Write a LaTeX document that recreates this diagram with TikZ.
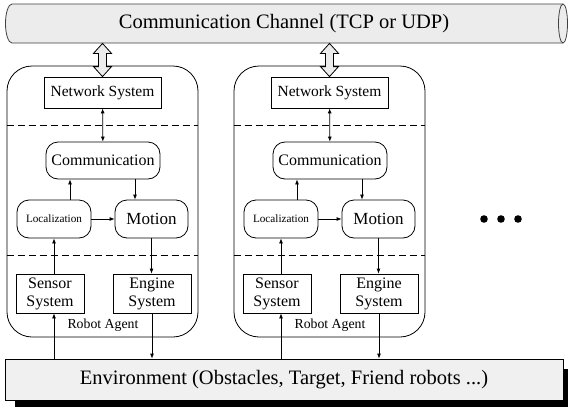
\documentclass[tikz,border=0pt]{standalone}
\usepackage{fontspec}
\setmainfont{Liberation Serif}
\usetikzlibrary{arrows.meta,calc,positioning}
\definecolor{chgray}{RGB}{236,236,236}
\definecolor{envgray}{RGB}{240,240,240}
\newcommand{\fsz}[2]{\fontsize{#1}{#2}\selectfont}
% one robot agent: #1 name prefix, #2 x offset
\newcommand{\robotagent}[2]{%
  \begin{scope}[xshift=#2]
    \node[agentbox] (#1box) at (102.5,201.5) {};
    \node[sysbox,minimum width=117,minimum height=31,font=\fsz{15.5}{17}] (#1net) at (102.5,92.5) {Network System};
    \node[procbox,minimum width=114,minimum height=37,font=\fsz{16}{18}] (#1com) at (103,160.5) {Communication};
    \node[procbox,minimum width=74,minimum height=38,font=\fsz{11.2}{13}] (#1loc) at (54,219) {Localization};
    \node[procbox,minimum width=73,minimum height=38,font=\fsz{17}{19}] (#1mot) at (151.5,219) {Motion};
    \node[sysbox,minimum width=68,minimum height=39,font=\fsz{16}{18}] (#1sen) at (50,293.5) {Sensor\\System};
    \node[sysbox,minimum width=78,minimum height=39,font=\fsz{16}{18}] (#1eng) at (152,293.5) {Engine\\System};
    \node[font=\fsz{13.8}{15}] (#1lbl) at (103,325) {Robot Agent};
    \draw[layer] (#1box.west |- 0,125) -- (#1box.east |- 0,125);
    \draw[layer] (#1box.west |- 0,255) -- (#1box.east |- 0,255);
    % hollow link to the channel
    \draw[linkarrow] (chan.south -| #1net) -- ++(9,10) -- ++(-5,0) |- ($(#1net.north)+(9,-10)$)
      -- (#1net.north) -- ++(-9,-10) -- ++(5,0) |- ($(chan.south -| #1net)+(-9,10)$) -- cycle;
    \draw[<->] (#1net) -- (#1com);
    \draw[->] ([xshift=16pt]#1loc.north) -- ([xshift=16pt]#1loc.north |- #1com.south);
    \draw[->] ([xshift=-16.5pt]#1mot.north |- #1com.south) -- ([xshift=-16.5pt]#1mot.north);
    \draw[->] (#1loc) -- (#1mot);
    \draw[->] (#1mot.south) -- (#1mot.south |- #1eng.north);
    \draw[->] (#1sen.north -| #1loc) -- (#1loc.south);
    \draw[->] (env.north -| #1loc) -- (#1sen.south -| #1loc);
    \draw[->] (#1eng.south) -- (#1eng.south |- env.north);
  \end{scope}
}

\begin{document}
\begin{tikzpicture}[x=1pt,y=-1pt,line width=.8pt,
    >={Latex[length=5pt,width=4pt]},
    every node/.style={inner sep=0pt,align=center},
    sysbox/.style={draw,fill=white},
    procbox/.style={draw,fill=white,rounded corners=12pt},
    agentbox/.style={draw,rounded corners=25pt,minimum width=191,minimum height=271},
    layer/.style={dash pattern=on 7pt off 4pt},
    linkarrow/.style={draw,fill=chgray,line join=miter},
    ]
  \useasboundingbox (0,0) rectangle (568,407);
  \clip (0,0) rectangle (568,407);
  % channel (drawn as a pipe)
  \draw[fill=chgray,draw=black!75] (12,4) -- (563,4) arc (-90:90:4.5 and 19.5) -- (12,43) arc (90:270:6.5 and 19.5) -- cycle;
  \draw[draw=black!75] (563,4) arc (270:90:4.5 and 19.5);
  \node[minimum width=545,minimum height=39,font=\fsz{20.5}{22}] (chan) at (284,23.5) {Communication Channel (TCP or UDP)};
  % environment
  \fill[black] (15,369) rectangle (573,410);
  \node[draw,fill=envgray,minimum width=558,minimum height=41,font=\fsz{20.5}{22}]
    (env) at (284,379.5) {Environment (Obstacles, Target, Friend robots ...)};
  % agents
  \robotagent{a}{0}
  \robotagent{b}{227}
  % more agents
  \foreach \dx in {484,501,518}
    \fill (\dx,219) circle (3.8);
\end{tikzpicture}
\end{document}
